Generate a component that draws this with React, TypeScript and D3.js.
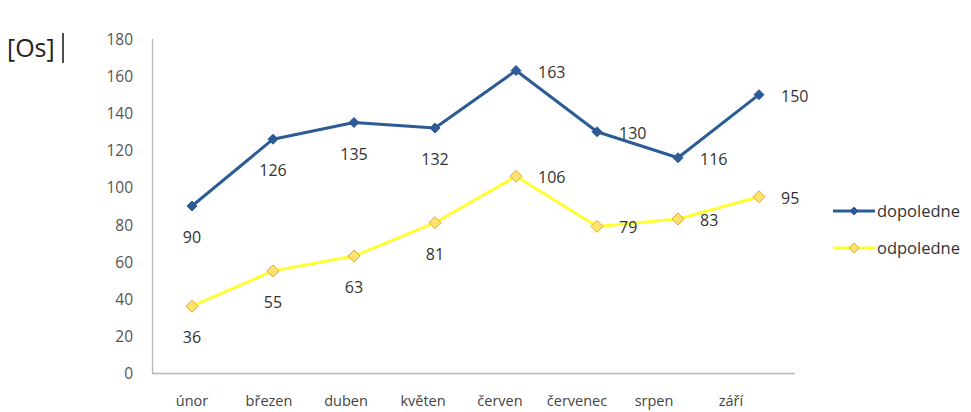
import React from 'react'
import * as d3 from 'd3'

const months = ['únor', 'březen', 'duben', 'květen', 'červen', 'červenec', 'srpen', 'září']
const dopoledne = [90, 126, 135, 132, 163, 130, 116, 150]
const odpoledne = [36, 55, 63, 81, 106, 79, 83, 95]
// where the value label sits: below the point or to its right
const dopoLabelPos = ['b', 'b', 'b', 'b', 'r', 'r', 'r', 'r']
const odpoLabelPos = ['b', 'b', 'b', 'b', 'r', 'r', 'r', 'r']
const yTicks = [0, 20, 40, 60, 80, 100, 120, 140, 160, 180]

const width = 971
const height = 412
const font = "'Open Sans', sans-serif"

const App = () => {
  const x = d3.scalePoint<string>().domain(months).range([192, 759])
  const xLab = d3.scalePoint<string>().domain(months).range([192, 731])
  const y = d3.scaleLinear().domain([0, 180]).range([373, 39])

  const line = d3.line<number>()
    .x((d, i) => x(months[i]) as number)
    .y(d => y(d))

  const diamond = (cx: number, cy: number, r: number) =>
    `M${cx},${cy - r}L${cx + r},${cy}L${cx},${cy + r}L${cx - r},${cy}Z`

  const series = [
    { name: 'dopoledne', data: dopoledne, pos: dopoLabelPos, stroke: '#2c5b96', fill: '#2c5b96', mStroke: '#2c5b96', r: 5, ly: 211 },
    { name: 'odpoledne', data: odpoledne, pos: odpoLabelPos, stroke: '#ffff33', fill: '#ffe36b', mStroke: '#e0a43a', r: 6, ly: 248 },
  ]

  return (
    <svg width={width} height={height} style={{ position: 'absolute', left: 0, top: 0, background: '#fff' }}>
      <text x={7} y={57} fontFamily={font} fontSize={25} fill="#222">[Os]</text>
      <line x1={63} x2={63} y1={33} y2={63} stroke="#222" strokeWidth={1.6} />

      {/* axes */}
      <line x1={152.5} x2={152.5} y1={39} y2={373} stroke="#b5b5b5" strokeWidth={1.3} />
      <line x1={152} x2={795} y1={373.5} y2={373.5} stroke="#b5b5b5" strokeWidth={1.3} />
      {yTicks.map(t => (
        <text key={t} x={133} y={y(t) + 6} textAnchor="end" fontFamily={font} fontSize={15.5} fill="#555">{t}</text>
      ))}
      {months.map(m => (
        <text key={m} x={xLab(m)} y={406} textAnchor="middle" fontFamily={font} fontSize={14.5} fill="#444">{m}</text>
      ))}

      {series.map(s => (
        <g key={s.name}>
          <path d={line(s.data) || ''} fill="none" stroke={s.stroke} strokeWidth={3} strokeLinejoin="round" />
          {s.data.map((v, i) => (
            <path key={i} d={diamond(x(months[i]) as number, y(v), s.r)} fill={s.fill} stroke={s.mStroke} strokeWidth={1} />
          ))}
          {s.data.map((v, i) => {
            const cx = x(months[i]) as number
            const cy = y(v)
            return s.pos[i] === 'b'
              ? <text key={'l' + i} x={cx} y={cy + 37} textAnchor="middle" fontFamily={font} fontSize={16} fill="#333">{v}</text>
              : <text key={'l' + i} x={cx + 22} y={cy + 7} fontFamily={font} fontSize={16} fill="#333">{v}</text>
          })}
          <line x1={833} x2={875} y1={s.ly} y2={s.ly} stroke={s.stroke} strokeWidth={3} />
          <path d={diamond(854, s.ly, s.r - 1)} fill={s.fill} stroke={s.mStroke} strokeWidth={1} />
          <text x={877} y={s.ly + 6} fontFamily={font} fontSize={16.5} fill="#333">{s.name}</text>
        </g>
      ))}
    </svg>
  )
}

export default App
